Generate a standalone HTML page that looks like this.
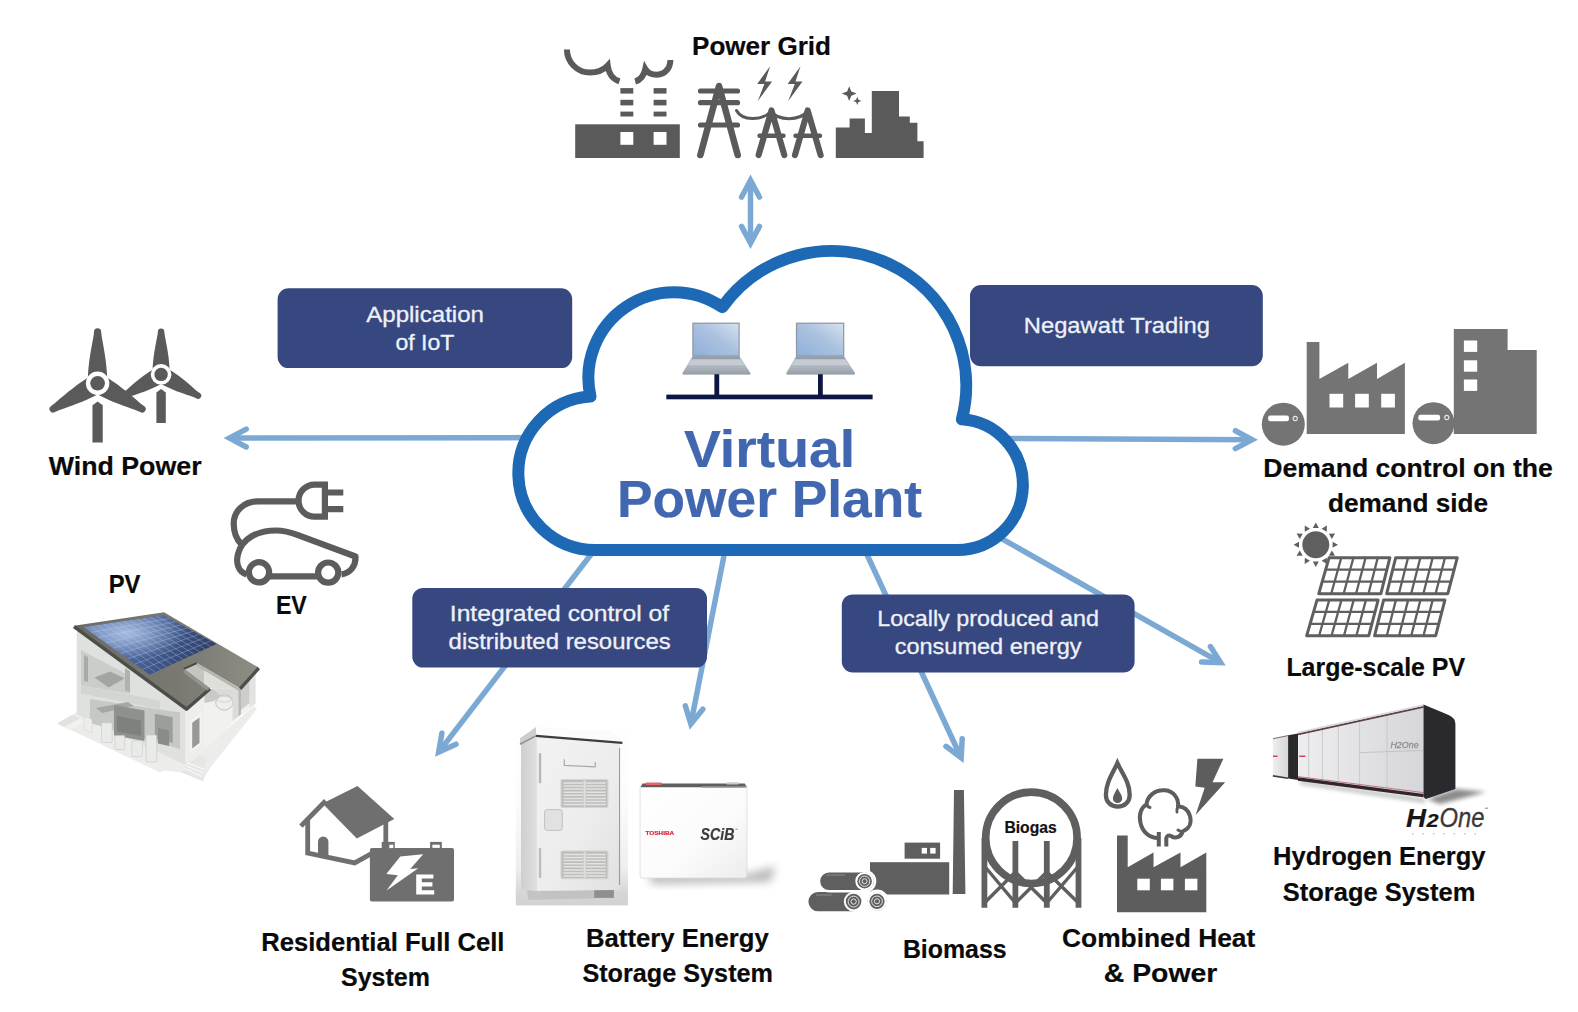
<!DOCTYPE html>
<html><head><meta charset="utf-8"><title>Virtual Power Plant</title>
<style>
html,body{margin:0;padding:0;background:#fff;}
body{width:1578px;height:1012px;overflow:hidden;font-family:"Liberation Sans",sans-serif;}
svg{display:block;}
text{font-family:"Liberation Sans",sans-serif;}
</style></head><body>
<svg width="1578" height="1012" viewBox="0 0 1578 1012">
<rect width="1578" height="1012" fill="#fff"/>
<!-- base -->
<g id="arrows">
<line x1="750.5" y1="180.26" x2="750.5" y2="243.14" stroke="#7ba9d4" stroke-width="5.5"/>
<polyline points="741.58,226.37 750.5,243.14 759.42,226.37" fill="none" stroke="#7ba9d4" stroke-width="5.5" stroke-linejoin="miter" stroke-miterlimit="10" stroke-linecap="round"/>
<polyline points="759.42,197.03 750.5,180.26 741.58,197.03" fill="none" stroke="#7ba9d4" stroke-width="5.5" stroke-linejoin="miter" stroke-miterlimit="10" stroke-linecap="round"/>
<line x1="530" y1="437.6" x2="229.46" y2="438.09" stroke="#7ba9d4" stroke-width="5.5"/>
<polyline points="246.22,429.14 229.46,438.09 246.25,446.98" fill="none" stroke="#7ba9d4" stroke-width="5.5" stroke-linejoin="miter" stroke-miterlimit="10" stroke-linecap="round"/>
<line x1="1005" y1="438.4" x2="1252.14" y2="439.77" stroke="#7ba9d4" stroke-width="5.5"/>
<polyline points="1235.32,448.59 1252.14,439.77 1235.42,430.75" fill="none" stroke="#7ba9d4" stroke-width="5.5" stroke-linejoin="miter" stroke-miterlimit="10" stroke-linecap="round"/>
<line x1="596" y1="548" x2="438.68" y2="752.06" stroke="#7ba9d4" stroke-width="5.5"/>
<polyline points="441.86,733.33 438.68,752.06 455.98,744.22" fill="none" stroke="#7ba9d4" stroke-width="5.5" stroke-linejoin="miter" stroke-miterlimit="10" stroke-linecap="round"/>
<line x1="725.5" y1="548" x2="690.83" y2="723.95" stroke="#7ba9d4" stroke-width="5.5"/>
<polyline points="685.32,705.77 690.83,723.95 702.83,709.22" fill="none" stroke="#7ba9d4" stroke-width="5.5" stroke-linejoin="miter" stroke-miterlimit="10" stroke-linecap="round"/>
<line x1="863.5" y1="547" x2="961.14" y2="757.78" stroke="#7ba9d4" stroke-width="5.5"/>
<polyline points="945.99,746.31 961.14,757.78 962.18,738.81" fill="none" stroke="#7ba9d4" stroke-width="5.5" stroke-linejoin="miter" stroke-miterlimit="10" stroke-linecap="round"/>
<line x1="990" y1="532" x2="1220.6" y2="662.61" stroke="#7ba9d4" stroke-width="5.5"/>
<polyline points="1201.61,662.11 1220.6,662.61 1210.4,646.58" fill="none" stroke="#7ba9d4" stroke-width="5.5" stroke-linejoin="miter" stroke-miterlimit="10" stroke-linecap="round"/>
</g>
<path id="cloud" d="M595.20,550.00 A76.80,76.80 0 0 1 590.50,396.54 A85.50,85.50 0 0 1 722.22,307.16 A134.60,134.60 0 0 1 961.90,419.35 A65.40,65.40 0 0 1 957.40,550.00 Z" fill="#fff" stroke="#1e69b5" stroke-width="12" stroke-linejoin="round"/>
<g id="boxes" fill="#37477f">
<rect x="277.6" y="288.3" width="294.6" height="79.8" rx="11" ry="11"/>
<rect x="970" y="285.1" width="292.8" height="81.1" rx="11" ry="11"/>
<rect x="412.3" y="587.9" width="294.7" height="79.7" rx="11" ry="11"/>
<rect x="841.8" y="594.4" width="292.8" height="78.1" rx="11" ry="11"/>
</g>
<g id="boxtext">
<text x="366.2" y="322.1" font-size="22" font-weight="normal" fill="#eef1f8" textLength="117.8" lengthAdjust="spacingAndGlyphs" stroke="#eef1f8" stroke-width="0.3">Application</text>
<text x="395.4" y="349.8" font-size="22" font-weight="normal" fill="#eef1f8" textLength="59" lengthAdjust="spacingAndGlyphs" stroke="#eef1f8" stroke-width="0.3">of IoT</text>
<text x="1023.8" y="333.2" font-size="22" font-weight="normal" fill="#eef1f8" textLength="186.1" lengthAdjust="spacingAndGlyphs" stroke="#eef1f8" stroke-width="0.3">Negawatt Trading</text>
<text x="449.8" y="620.6" font-size="22" font-weight="normal" fill="#eef1f8" textLength="219.3" lengthAdjust="spacingAndGlyphs" stroke="#eef1f8" stroke-width="0.3">Integrated control of</text>
<text x="448.6" y="648.6" font-size="22" font-weight="normal" fill="#eef1f8" textLength="222.1" lengthAdjust="spacingAndGlyphs" stroke="#eef1f8" stroke-width="0.3">distributed resources</text>
<text x="877.2" y="626.4" font-size="22" font-weight="normal" fill="#eef1f8" textLength="221.7" lengthAdjust="spacingAndGlyphs" stroke="#eef1f8" stroke-width="0.3">Locally produced and</text>
<text x="894.7" y="654.3" font-size="22" font-weight="normal" fill="#eef1f8" textLength="186.9" lengthAdjust="spacingAndGlyphs" stroke="#eef1f8" stroke-width="0.3">consumed energy</text>
</g>
<g id="title">
<text x="684" y="466.7" font-size="51" font-weight="bold" fill="#4067b0" textLength="171" lengthAdjust="spacingAndGlyphs" stroke="#4067b0" stroke-width="0.2">Virtual</text>
<text x="617" y="517.3" font-size="51" font-weight="bold" fill="#4067b0" textLength="305" lengthAdjust="spacingAndGlyphs" stroke="#4067b0" stroke-width="0.2">Power Plant</text>
</g>
<g id="labels">
<text x="692" y="54.5" font-size="26" font-weight="bold" fill="#0a0a0a" textLength="139" lengthAdjust="spacingAndGlyphs" stroke="#0a0a0a" stroke-width="0.2">Power Grid</text>
<text x="48.7" y="475.4" font-size="26" font-weight="bold" fill="#0a0a0a" textLength="152.9" lengthAdjust="spacingAndGlyphs" stroke="#0a0a0a" stroke-width="0.2">Wind Power</text>
<text x="108.7" y="593.3" font-size="26" font-weight="bold" fill="#0a0a0a" textLength="31.7" lengthAdjust="spacingAndGlyphs" stroke="#0a0a0a" stroke-width="0.2">PV</text>
<text x="275.9" y="614" font-size="26" font-weight="bold" fill="#0a0a0a" textLength="30.9" lengthAdjust="spacingAndGlyphs" stroke="#0a0a0a" stroke-width="0.2">EV</text>
<text x="261.3" y="951.2" font-size="26" font-weight="bold" fill="#0a0a0a" textLength="243.1" lengthAdjust="spacingAndGlyphs" stroke="#0a0a0a" stroke-width="0.2">Residential Full Cell</text>
<text x="341.1" y="985.7" font-size="26" font-weight="bold" fill="#0a0a0a" textLength="88.8" lengthAdjust="spacingAndGlyphs" stroke="#0a0a0a" stroke-width="0.2">System</text>
<text x="586" y="946.6" font-size="26" font-weight="bold" fill="#0a0a0a" textLength="182.7" lengthAdjust="spacingAndGlyphs" stroke="#0a0a0a" stroke-width="0.2">Battery Energy</text>
<text x="582.4" y="982.1" font-size="26" font-weight="bold" fill="#0a0a0a" textLength="190.6" lengthAdjust="spacingAndGlyphs" stroke="#0a0a0a" stroke-width="0.2">Storage System</text>
<text x="902.9" y="958.3" font-size="26" font-weight="bold" fill="#0a0a0a" textLength="103.7" lengthAdjust="spacingAndGlyphs" stroke="#0a0a0a" stroke-width="0.2">Biomass</text>
<text x="1062" y="946.6" font-size="26" font-weight="bold" fill="#0a0a0a" textLength="193.3" lengthAdjust="spacingAndGlyphs" stroke="#0a0a0a" stroke-width="0.2">Combined Heat</text>
<text x="1103.8" y="982.4" font-size="26" font-weight="bold" fill="#0a0a0a" textLength="113.5" lengthAdjust="spacingAndGlyphs" stroke="#0a0a0a" stroke-width="0.2">&amp; Power</text>
<text x="1263.2" y="476.7" font-size="26" font-weight="bold" fill="#0a0a0a" textLength="289.7" lengthAdjust="spacingAndGlyphs" stroke="#0a0a0a" stroke-width="0.2">Demand control on the</text>
<text x="1328" y="512.2" font-size="26" font-weight="bold" fill="#0a0a0a" textLength="160.1" lengthAdjust="spacingAndGlyphs" stroke="#0a0a0a" stroke-width="0.2">demand side</text>
<text x="1286.4" y="675.8" font-size="26" font-weight="bold" fill="#0a0a0a" textLength="178.7" lengthAdjust="spacingAndGlyphs" stroke="#0a0a0a" stroke-width="0.2">Large-scale PV</text>
<text x="1273.1" y="864.5" font-size="26" font-weight="bold" fill="#0a0a0a" textLength="212.4" lengthAdjust="spacingAndGlyphs" stroke="#0a0a0a" stroke-width="0.2">Hydrogen Energy</text>
<text x="1282.8" y="900.6" font-size="26" font-weight="bold" fill="#0a0a0a" textLength="192.5" lengthAdjust="spacingAndGlyphs" stroke="#0a0a0a" stroke-width="0.2">Storage System</text>
</g>
<!-- topicons -->
<g id="powerplant" fill="#5a5a5a">
<rect x="575.2" y="124.3" width="104.6" height="33.7"/>
<rect x="620.4" y="132" width="12.9" height="12.8" fill="#fff"/>
<rect x="620.4" y="88.1" width="12.9" height="5.5"/>
<rect x="620.4" y="99.8" width="12.9" height="5.6"/>
<rect x="620.4" y="111.6" width="12.9" height="4.9"/>
<rect x="653.6" y="132" width="12.9" height="12.8" fill="#fff"/>
<rect x="653.6" y="88.1" width="12.9" height="5.5"/>
<rect x="653.6" y="99.8" width="12.9" height="5.6"/>
<rect x="653.6" y="111.6" width="12.9" height="4.9"/>
<path d="M566.9,49.5 C567,62 577,72.6 590,72.6 C598,72.6 604,69.5 607.7,65.5 C608.5,72 612,79 619.5,81.4" fill="none" stroke="#5a5a5a" stroke-width="6"/>
<path d="M670.4,60 C670.4,68 665,74.7 657,74.7 C651,74.7 647,72 645.3,69 C644,75 640.5,80 635.2,81.5" fill="none" stroke="#5a5a5a" stroke-width="6"/>
</g>
<g id="pylons" fill="none" stroke="#5a5a5a" stroke-linecap="round" stroke-linejoin="round">
<path d="M700.4,155 L719,86 L737.7,155" stroke-width="6.6"/>
<path d="M700.5,91 H737.5 M700.5,102.7 H737.5 M700.5,125 H737.5" stroke-width="5.2"/>
<path d="M758.6,155 L771.5,110.5 L784.3,155" stroke-width="6.2"/>
<path d="M759.5,135.8 H783.5 M795.5,135.8 H820" stroke-width="4.4"/>
<path d="M795,155 L807.7,110.5 L820.6,155" stroke-width="6.2"/>
<path d="M736.5,110.5 C742,121 762,121 771,111.5 C778,121 800,121 807,111.5" stroke-width="3"/>
</g>
<polygon points="770.1,66.2 757.2,83.9 764.4,83.9 757.7,101.2 772.1,81.6 765.1,81.6" fill="#5a5a5a"/>
<polygon points="800.5,66.2 787.6,83.9 794.8,83.9 788.1,101.2 802.5,81.6 795.5,81.6" fill="#5a5a5a"/>
<polygon points="849.2,86.2 851.29,91.51 856.6,93.6 851.29,95.69 849.2,101 847.11,95.69 841.8,93.6 847.11,91.51" fill="#5a5a5a"/>
<polygon points="857.3,96.7 858.49,99.71 861.5,100.9 858.49,102.09 857.3,105.1 856.11,102.09 853.1,100.9 856.11,99.71" fill="#5a5a5a"/>
<polygon id="city" fill="#5a5a5a" points="835.8,158 835.8,127.5 849.6,127.5 849.6,118.5 864.9,118.5 864.9,133 871.8,133 871.8,91.1 899,91.1 899,116.4 909.8,116.4 909.8,122.7 917.4,122.7 917.4,141.3 923.6,141.3 923.6,158"/>
<!-- lefticons -->
<g id="wind">
<g fill="#5a5a5a">
<polygon points="156.4,422.9 156.4,392.39 161.1,389.1 165.8,392.39 165.8,422.9"/>
<path d="M152.5,372.4 C152.93,352.6 157.58,338 157.9,331.6 A3.2,3.2 0 0 1 164.3,331.6 C164.62,338 169.27,352.6 169.7,372.4 Z"/>
<path d="M167.13,367.95 C184.06,378.22 194.38,389.55 199.77,393.03 A3.2,3.2 0 0 1 196.57,398.57 C190.86,395.65 175.89,392.38 158.53,382.85 Z"/>
<path d="M163.67,382.85 C146.31,392.38 131.34,395.65 125.63,398.57 A3.2,3.2 0 0 1 122.43,393.03 C127.82,389.55 138.14,378.22 155.07,367.95 Z"/>
<circle cx="161.1" cy="374.4" r="10.3" fill="#fff"/>
<circle cx="161.1" cy="374.4" r="6.7"/>
</g>
<g fill="#5a5a5a">
<polygon points="92.45,442.5 92.45,405.21 97.6,401.6 102.75,405.21 102.75,442.5"/>
<path d="M87.8,381.3 C88.29,357.45 93.64,339.1 94,331.9 A3.6,3.6 0 0 1 101.2,331.9 C101.56,339.1 106.91,357.45 107.4,381.3 Z"/>
<path d="M104.23,375.81 C124.64,388.16 137.86,401.97 143.91,405.88 A3.6,3.6 0 0 1 140.31,412.12 C133.9,408.83 115.33,404.29 94.43,392.79 Z"/>
<path d="M100.77,392.79 C79.87,404.29 61.3,408.83 54.89,412.12 A3.6,3.6 0 0 1 51.29,405.88 C57.34,401.97 70.56,388.16 90.97,375.81 Z"/>
<circle cx="97.6" cy="383.3" r="11.7" fill="#fff"/>
<circle cx="97.6" cy="383.3" r="7.3"/>
</g>
</g>
<g id="ev" fill="none" stroke="#5c5c5c" stroke-width="6.2" stroke-linejoin="round">
<path d="M299.6,501.4 H258 C244,501.4 233.7,511 233.7,523.6 C233.7,533 236.5,539.5 241.5,544.5"/>
<path d="M246.5,574.5 C238,571.5 235.8,563 238,554 C242,538 258,530.5 276,530.5 C284,530.5 291,532.5 298,535.2 L355.5,556.5 C356,566 350,573.5 341.5,574.3"/>
<path d="M269.5,576.4 H317.5"/>
<circle cx="259" cy="572.3" r="10.1"/>
<circle cx="328.2" cy="572.6" r="10.1"/>
<path d="M324.9,484.6 H314.6 A16,16 0 0 0 314.6,516.7 H324.9 Z" stroke-linejoin="miter"/>
<path d="M326,492.5 H343.3 M326,509.1 H343.3"/>
</g>
<!-- bottomicons -->
<g id="fuelcell">
<polygon points="357.5,785.9 394.3,819.1 356.8,838.6 322.5,803.4" fill="#6f6f6f"/>
<path d="M324,802.5 L302.6,824.4 M307.7,821.5 V853 L354.7,862.9 L371,853.8 M385.8,822 V849" fill="none" stroke="#6f6f6f" stroke-width="4.8" stroke-linejoin="miter" stroke-linecap="square"/>
<path d="M318,854.6 V841.6 A5.2,5.2 0 0 1 328.4,841.6 V856.8 Z" fill="#6f6f6f"/>
<rect x="369.9" y="848.1" width="84.1" height="53.3" rx="2" fill="#6f6f6f"/>
<rect x="381.7" y="841.9" width="13.1" height="7" fill="#6f6f6f"/>
<rect x="430.1" y="841.9" width="11.7" height="7" fill="#6f6f6f"/>
<rect x="389.3" y="844.7" width="4" height="3.4" fill="#fff"/>
<rect x="432.4" y="844.7" width="7.4" height="3.2" fill="#fff"/>
<polygon points="400.3,856.4 423.2,854.2 410.2,868.9 418.3,868.2 386.5,890.6 397.8,875.3 386.3,873.9" fill="#fff"/>
<path d="M416.2,874.4 H433.4 V878.6 H421.8 V882.3 H432.4 V886.4 H421.8 V890.3 H434.2 V894.5 H416.2 Z" fill="#fff"/>
</g>
<g id="biomass" fill="#5f5f5f">
<rect x="870" y="862.2" width="79.2" height="32.3"/>
<rect x="904.6" y="842.6" width="35.5" height="16.1"/>
<rect x="921.7" y="847.9" width="5.3" height="5.7" fill="#fff"/><rect x="930.2" y="847.9" width="5.4" height="5.7" fill="#fff"/>
<polygon points="954,789.9 963.9,789.9 965.4,894.1 952.7,894.1"/>
<rect x="807.2" y="890.7" width="56.3" height="21.8" rx="10.9" stroke="#fff" stroke-width="2.4"/>
<circle cx="877" cy="901.3" r="10.6" stroke="#fff" stroke-width="2.4"/>
<rect x="819" y="871.3" width="56.1" height="19.9" rx="9.95" stroke="#fff" stroke-width="2.4"/>
<circle cx="864.6" cy="881.2" r="8.3" stroke="#fff" stroke-width="2"/>
<circle cx="864.6" cy="881.2" r="5.15" fill="none" stroke="#e4e4e4" stroke-width="1"/>
<circle cx="864.6" cy="881.2" r="2.49" fill="none" stroke="#e4e4e4" stroke-width="1"/>
<circle cx="853.6" cy="901.6" r="8.8" stroke="#fff" stroke-width="2"/>
<circle cx="853.6" cy="901.6" r="5.46" fill="none" stroke="#e4e4e4" stroke-width="1"/>
<circle cx="853.6" cy="901.6" r="2.64" fill="none" stroke="#e4e4e4" stroke-width="1"/>
<circle cx="877" cy="901.3" r="8.6" stroke="#fff" stroke-width="2"/>
<circle cx="877" cy="901.3" r="5.33" fill="none" stroke="#e4e4e4" stroke-width="1"/>
<circle cx="877" cy="901.3" r="2.58" fill="none" stroke="#e4e4e4" stroke-width="1"/>
<path d="M826,875 H845 M816,895 H832" stroke="#8a8a8a" stroke-width="1" fill="none"/>
</g>
<g id="biogas" fill="none" stroke="#5f5f5f">
<circle cx="1031.4" cy="837.8" r="45.7" stroke-width="7.6"/>
<path d="M984.4,838 V907.8 M1078.5,838 V907.8 M1015.4,841 V907.8 M1046.8,841 V907.8" stroke-width="5.8"/>
<path d="M984.4,866 L1015.4,903 M1015.4,872 L984.4,903 M1015.4,872 L1046.8,903 M1046.8,872 L1015.4,903 M1078.5,866 L1046.8,903 M1046.8,872 L1078.5,903" stroke-width="3.4"/>
</g>
<text x="1004.4" y="833.3" font-size="16.6" font-weight="bold" fill="#111" textLength="52.3" lengthAdjust="spacingAndGlyphs" stroke="#111" stroke-width="0.2">Biogas</text>
<g id="chp" fill="#5d5d5d">
<polygon points="1117,835.5 1127.7,835.5 1127.7,867.2 1153.5,852.4 1153.5,867.2 1180.5,852.4 1180.5,867.2 1206.3,852.4 1206.3,912.2 1117,912.2"/>
<rect x="1137.3" y="878.7" width="12.5" height="11.6" fill="#fff"/>
<rect x="1160.9" y="878.7" width="12.5" height="11.6" fill="#fff"/>
<rect x="1184.9" y="878.7" width="12.5" height="11.6" fill="#fff"/>
<path d="M1117.4,763 C1113,773 1105.9,782 1105.9,795 C1105.9,802 1111,806.6 1117.8,806.6 C1124.6,806.6 1129.7,802 1129.7,795 C1129.7,782 1121.8,773 1117.4,763 Z" fill="none" stroke="#5d5d5d" stroke-width="4.3" stroke-linejoin="miter"/>
<path d="M1117.4,788 C1115.6,792 1112.9,795 1112.9,798.6 A4.65,4.5 0 0 0 1122.2,798.6 C1122.2,795 1119.3,792 1117.4,788 Z"/>
<polygon points="1197.4,758.7 1223.4,758.7 1212.5,782.3 1225.2,782.3 1195.6,814.9 1204.7,787.7 1195.3,786.6"/>
<path d="M1158.8,846.4 V832 M1166.3,846.4 V838 C1167,835.5 1169,834.8 1171,836 C1176,839.5 1181.5,836.5 1182.5,831.5 C1189,829 1192,823 1190,816 C1188.5,810 1183.5,806 1178,806.5 C1179,799 1174,791 1165,790.3 C1155,789.5 1147.5,796 1146.5,804.5 C1141,807.5 1138.5,815 1140.5,823 C1142.5,832 1149.5,838.5 1158.8,838" fill="none" stroke="#5d5d5d" stroke-width="4" stroke-linejoin="round"/>
<path d="M1146.5,804.5 C1147.5,806.5 1148.5,807 1150,807.5 M1178,806.5 C1177,808.5 1176.5,810.5 1177,812 M1182.5,831.5 C1181,831.5 1179.5,831 1178,830" fill="none" stroke="#5d5d5d" stroke-width="3" stroke-linecap="round"/>
</g>
<!-- righticons -->
<g id="demand" fill="#747474">
<polygon points="1306.7,341.9 1319.4,341.9 1319.4,378.9 1348.3,362.8 1348.3,378.9 1377,362.8 1377,378.9 1404.9,362.8 1404.9,434.1 1306.7,434.1"/>
<rect x="1329.5" y="393.8" width="13.7" height="13.7" fill="#fff"/>
<rect x="1355.1" y="393.8" width="13.7" height="13.7" fill="#fff"/>
<rect x="1381.2" y="393.8" width="13.7" height="13.7" fill="#fff"/>
<polygon points="1453.8,329.1 1507.6,329.1 1507.6,350 1536.7,350 1536.7,434.1 1453.8,434.1"/>
<rect x="1463.9" y="340.5" width="13.3" height="11.4" fill="#fff"/>
<rect x="1463.9" y="360.3" width="13.3" height="11.4" fill="#fff"/>
<rect x="1463.9" y="379.5" width="13.3" height="11.4" fill="#fff"/>
<circle cx="1283.3" cy="424.2" r="21.5"/>
<rect x="1268.1" y="415.6" width="20.9" height="5.7" rx="2.2" fill="#fff"/>
<circle cx="1295.2" cy="418.5" r="2.1" fill="none" stroke="#e8e8e8" stroke-width="1.1"/>
<circle cx="1433.5" cy="423.2" r="21"/>
<rect x="1418.3" y="414.7" width="21.8" height="5.7" rx="2.2" fill="#fff"/>
<circle cx="1446.8" cy="417.5" r="2.1" fill="none" stroke="#e8e8e8" stroke-width="1.1"/>
</g>
<g id="lspv">
<polygon points="1332.6,547.7 1338,544.7 1332.6,541.7" fill="#5f5f5f"/>
<polygon points="1328.85,555.7 1335.03,555.8 1331.85,550.5" fill="#5f5f5f"/>
<polygon points="1321.6,560.75 1326.9,563.93 1326.8,557.75" fill="#5f5f5f"/>
<polygon points="1312.8,561.5 1315.8,566.9 1318.8,561.5" fill="#5f5f5f"/>
<polygon points="1304.8,557.75 1304.7,563.93 1310,560.75" fill="#5f5f5f"/>
<polygon points="1299.75,550.5 1296.57,555.8 1302.75,555.7" fill="#5f5f5f"/>
<polygon points="1299,541.7 1293.6,544.7 1299,547.7" fill="#5f5f5f"/>
<polygon points="1302.75,533.7 1296.57,533.6 1299.75,538.9" fill="#5f5f5f"/>
<polygon points="1310,528.65 1304.7,525.47 1304.8,531.65" fill="#5f5f5f"/>
<polygon points="1318.8,527.9 1315.8,522.5 1312.8,527.9" fill="#5f5f5f"/>
<polygon points="1326.8,531.65 1326.9,525.47 1321.6,528.65" fill="#5f5f5f"/>
<polygon points="1331.85,538.9 1335.03,533.6 1328.85,533.7" fill="#5f5f5f"/>
<circle cx="1315.8" cy="544.7" r="13.5" fill="#5f5f5f"/>
<polygon points="1329.1,557.7 1389.9,557.7 1380.9,593.7 1318.8,593.7" fill="#fff" stroke="#5f5f5f" stroke-width="3" stroke-linejoin="round"/>
<path d="M1341.26,557.7 L1331.22,593.7 M1353.42,557.7 L1343.64,593.7 M1365.58,557.7 L1356.06,593.7 M1377.74,557.7 L1368.48,593.7 M1325.67,569.7 L1386.9,569.7 M1322.23,581.7 L1383.9,581.7 " fill="none" stroke="#5f5f5f" stroke-width="2.3"/>
<polygon points="1395.7,557.7 1457.3,557.7 1447.8,593.7 1386.7,593.7" fill="#fff" stroke="#5f5f5f" stroke-width="3" stroke-linejoin="round"/>
<path d="M1408.02,557.7 L1398.92,593.7 M1420.34,557.7 L1411.14,593.7 M1432.66,557.7 L1423.36,593.7 M1444.98,557.7 L1435.58,593.7 M1392.7,569.7 L1454.13,569.7 M1389.7,581.7 L1450.97,581.7 " fill="none" stroke="#5f5f5f" stroke-width="2.3"/>
<polygon points="1317,600.1 1378.1,600.1 1368.8,635.7 1306.7,635.7" fill="#fff" stroke="#5f5f5f" stroke-width="3" stroke-linejoin="round"/>
<path d="M1329.22,600.1 L1319.12,635.7 M1341.44,600.1 L1331.54,635.7 M1353.66,600.1 L1343.96,635.7 M1365.88,600.1 L1356.38,635.7 M1313.57,611.97 L1375,611.97 M1310.13,623.83 L1371.9,623.83 " fill="none" stroke="#5f5f5f" stroke-width="2.3"/>
<polygon points="1383.6,600.1 1444.9,600.1 1435.7,635.7 1374.6,635.7" fill="#fff" stroke="#5f5f5f" stroke-width="3" stroke-linejoin="round"/>
<path d="M1395.86,600.1 L1386.82,635.7 M1408.12,600.1 L1399.04,635.7 M1420.38,600.1 L1411.26,635.7 M1432.64,600.1 L1423.48,635.7 M1380.6,611.97 L1441.83,611.97 M1377.6,623.83 L1438.77,623.83 " fill="none" stroke="#5f5f5f" stroke-width="2.3"/>
</g>
<!-- photos -->
<defs>
<filter id="soft" x="-5%" y="-5%" width="110%" height="110%"><feGaussianBlur stdDeviation="0.55"/></filter>
<filter id="blur2" x="-20%" y="-20%" width="140%" height="140%"><feGaussianBlur stdDeviation="2.2"/></filter>
<filter id="blur4" x="-30%" y="-30%" width="160%" height="160%"><feGaussianBlur stdDeviation="4"/></filter>
<linearGradient id="scr" x1="0" y1="1" x2="1" y2="0"><stop offset="0" stop-color="#8fb0da"/><stop offset="0.55" stop-color="#abc2df"/><stop offset="1" stop-color="#d6e1ef"/></linearGradient>
<linearGradient id="kb" x1="0" y1="0" x2="0" y2="1"><stop offset="0" stop-color="#8f98a3"/><stop offset="0.5" stop-color="#b4bbc3"/><stop offset="1" stop-color="#9aa2ab"/></linearGradient>
<linearGradient id="roofg" x1="0" y1="0" x2="1" y2="0"><stop offset="0" stop-color="#6a6a64"/><stop offset="0.6" stop-color="#7b7a72"/><stop offset="1" stop-color="#8f8e85"/></linearGradient>
<linearGradient id="solg" x1="0" y1="0" x2="1" y2="0.25"><stop offset="0" stop-color="#5f7bb0"/><stop offset="0.5" stop-color="#4a669c"/><stop offset="1" stop-color="#2f426d"/></linearGradient>
<radialGradient id="solh" cx="0.32" cy="0.3" r="0.45"><stop offset="0" stop-color="#b4c9ea" stop-opacity="0.85"/><stop offset="1" stop-color="#b4c9ea" stop-opacity="0"/></radialGradient>
</defs>
<g id="laptops" filter="url(#soft)">
<rect x="692.3" y="322.6" width="47.4" height="34.2" fill="#8d96a3"/>
<rect x="693.5" y="323.8" width="45" height="31.6" fill="url(#scr)"/>
<polygon points="692.3,356.7 739.7,356.7 750.6,373.2 682.3,373.2" fill="url(#kb)" />
<polygon points="691.1,359.2 740.9,359.2 744.1,365 687.9,365" fill="#c9d0d8" opacity="0.85"/>
<polygon points="682.3,373.2 750.6,373.2 750,374.6 682.9,374.6" fill="#7f8791" />
<rect x="714.4" y="374.2" width="4.8" height="21" fill="#0c1842"/>
<rect x="795.9" y="322.6" width="48.4" height="34.2" fill="#8d96a3"/>
<rect x="797.1" y="323.8" width="46" height="31.6" fill="url(#scr)"/>
<polygon points="795.9,356.7 844.3,356.7 855.2,373.2 786.2,373.2" fill="url(#kb)" />
<polygon points="794.7,359.2 845.5,359.2 848.7,365 791.5,365" fill="#c9d0d8" opacity="0.85"/>
<polygon points="786.2,373.2 855.2,373.2 854.6,374.6 786.8,374.6" fill="#7f8791" />
<rect x="818" y="374.2" width="4.8" height="21" fill="#0c1842"/>
<rect x="666.3" y="394.6" width="206.3" height="4.7" fill="#0c1842"/>
</g>
<g id="house" filter="url(#soft)">
<polygon points="57,723.5 76.7,712 185.7,762 204.4,748 254,706 257,709 210,768 203,780.5 181,772.5 164,770.5 160,772.5" fill="#ecedeb" />
<polygon points="57,723.5 72,715 80,718.5 64,727" fill="#e2e3e1" />
<polygon points="64,727 80,718.5 86,721 70,730" fill="#f1f2f0" />
<polygon points="76.7,629.5 185.7,709.5 185.7,765 76.7,714.5" fill="#dfe1df" />
<polygon points="81,650 130,676 130,694 81,685.5" fill="#cbcdcb" />
<polygon points="84,655 88,657 88,682 84,681" fill="#a9aba9" />
<polygon points="94.4,677.4 110,671.5 124.7,678.2 108.7,687.4" fill="#a3a5a3" />
<polygon points="125,668 130,671 130,692 125,690.5" fill="#b0b2b0" />
<polygon points="81,685.5 81,693.5 160,709 160,700.5" fill="#d3d5d3" />
<polygon points="90,699 180,712.5 180,749 90,723" fill="#c6c8c6" />
<polygon points="96,708 128,702 134,706 102,713" fill="#a6a8a6" />
<polygon points="114,705 144.5,710.5 144.5,741 114,735.5" fill="#8f918f" />
<polygon points="117,716 141,720.5 141,736 117,731.5" fill="#7f817f" />
<polygon points="154.9,713.8 172.7,717.3 172.7,743 154.9,739" fill="#9c9e9c" />
<polygon points="158,728 169,730.5 169,746 158,743.5" fill="#8a8c8a" />
<rect x="101.6" y="722.7" width="10.6" height="19.8" rx="1.2" fill="#e9ebe9" stroke="#c5c7c5" stroke-width="0.6"/>
<rect x="114.9" y="735.5" width="9.8" height="14" rx="1.2" fill="#e9ebe9" stroke="#c5c7c5" stroke-width="0.6"/>
<rect x="131.8" y="740.8" width="10.6" height="15.8" rx="1.2" fill="#e9ebe9" stroke="#c5c7c5" stroke-width="0.6"/>
<rect x="146" y="735.1" width="10.7" height="26.9" rx="1.2" fill="#e9ebe9" stroke="#c5c7c5" stroke-width="0.6"/>
<polygon points="84,716 92,719.5 92,733 84,729.5" fill="#eceeec" stroke="#cfd1cf" stroke-width="0.5"/>
<polygon points="185.7,709.5 204.4,694.8 204.4,750.1 185.7,766" fill="#eeefed" />
<polygon points="190.3,720.5 201.6,712.2 201.6,744 190.3,752.5" fill="#f4f4f2" />
<polygon points="192.2,722.8 199.5,717.5 199.5,743 192.2,748.6" fill="#999997" />
<polygon points="204.4,694.8 212,688.5 241,688.5 256,672 256,704 238,718 204.4,750.1" fill="#f1f1ef" />
<polygon points="204.4,694.8 212,688.5 222,694 214,701 204.4,703" fill="#c9c9c7" />
<polygon points="212,688.5 241,688.5 241,700 226,700" fill="#dadad8" />
<ellipse cx="224.3" cy="702.5" rx="8.6" ry="7.6" fill="#eeeeec" stroke="#bcbcba" stroke-width="0.9"/>
<ellipse cx="224.3" cy="699.2" rx="7" ry="2.8" fill="none" stroke="#c4c4c2" stroke-width="0.7"/>
<polygon points="232.6,688.2 238.4,688.2 238.4,716.5 232.6,720.5" fill="#dcdcda" />
<polygon points="238.4,688.2 241,688.2 241,714 238.4,716.5" fill="#b9b9b7" />
<polygon points="249.5,678.8 255.3,672.5 255.3,703.4 249.5,707.5" fill="#e3e3e1" />
<polygon points="241,688 249.5,679 249.5,703 241,710" fill="#cdcdcb" />
<polygon points="185.7,765.5 200,755 206,758 203,781.5 182,772.5" fill="#e6e7e5" />
<path d="M184.5,768.5 L202,776.5 M186,765.8 L203.5,773 M188,763 L204.5,769.5" stroke="#fafafa" stroke-width="1.1" fill="none"/>
<polygon points="196.9,662.9 241,688.4 210,688.4 183.8,668.5" fill="#dededb" />
<polygon points="183.8,668.5 196.9,662.9 204,667 204,684" fill="#c4c4c0" />
<polygon points="74,625.8 164,612.3 258.8,667.6 240.1,688.2 196.9,662.9 183.8,668.5 210,688.2 186.5,708.6" fill="url(#roofg)" />
<path d="M74,626.6 L186.5,709.2 L210,688.8 M240.1,688.8 L258.8,668.2" stroke="#4d4d4a" stroke-width="3.4" fill="none" stroke-linejoin="round"/>
<path d="M183.8,668.8 L196.9,663.2" stroke="#454542" stroke-width="1.8" fill="none"/>
<polygon points="196.9,663.2 240.1,688.5 240.1,691.5 196.9,666.2" fill="#b5b5b0" />
<polygon points="183.8,669 210,688.6 207.5,690.8 183.8,673" fill="#9c9c97" opacity="0.7"/>
<polygon points="83.8,627 163.5,615.3 216.6,644.1 149.6,674.7" fill="url(#solg)" />
<polygon points="83.8,627 163.5,615.3 216.6,644.1 149.6,674.7" fill="url(#solh)" />
<path d="M90.44,626.02 L155.18,672.15 M97.08,625.05 L160.77,669.6 M103.72,624.08 L166.35,667.05 M110.37,623.1 L171.93,664.5 M117.01,622.12 L177.52,661.95 M123.65,621.15 L183.1,659.4 M130.29,620.17 L188.68,656.85 M136.93,619.2 L194.27,654.3 M143.57,618.22 L199.85,651.75 M150.22,617.25 L205.43,649.2 M156.86,616.27 L211.02,646.65 M91.11,632.3 L169.4,618.5 M98.42,637.6 L175.3,621.7 M105.73,642.9 L181.2,624.9 M113.04,648.2 L187.1,628.1 M120.36,653.5 L193,631.3 M127.67,658.8 L198.9,634.5 M134.98,664.1 L204.8,637.7 M142.29,669.4 L210.7,640.9 " stroke="#c8d6ee" stroke-opacity="0.45" stroke-width="0.7" fill="none"/>
</g>
<!-- photos2 -->
<defs>
<linearGradient id="cabbg" x1="0" y1="0" x2="0" y2="1"><stop offset="0" stop-color="#ffffff"/><stop offset="0.45" stop-color="#fbfbfb"/><stop offset="0.8" stop-color="#eeeeee"/><stop offset="0.93" stop-color="#d6d6d6"/><stop offset="1" stop-color="#d2d2d2"/></linearGradient>
<linearGradient id="cabside" x1="0" y1="0" x2="1" y2="0"><stop offset="0" stop-color="#cfcfcf"/><stop offset="1" stop-color="#dfdfdf"/></linearGradient>
<linearGradient id="cabfront" x1="0" y1="0" x2="1" y2="1"><stop offset="0" stop-color="#f2f2f2"/><stop offset="0.6" stop-color="#ececec"/><stop offset="1" stop-color="#e0e0e0"/></linearGradient>
<linearGradient id="scibg" x1="0" y1="0" x2="1" y2="1"><stop offset="0" stop-color="#ffffff"/><stop offset="0.6" stop-color="#fbfbfb"/><stop offset="1" stop-color="#ececec"/></linearGradient>
<linearGradient id="h2side" x1="0" y1="0" x2="1" y2="0"><stop offset="0" stop-color="#eeeef0"/><stop offset="0.5" stop-color="#e2e2e5"/><stop offset="1" stop-color="#d6d6da"/></linearGradient>
</defs>
<g id="cabinet" filter="url(#soft)">
<rect x="515.8" y="722" width="112.2" height="183.4" fill="url(#cabbg)"/>
<polygon points="541,891 595,890 595,898.5 541,899.5" fill="#c2c2c2" />
<polygon points="526.6,890 541.6,891.4 541.6,899.8 528.5,899.8" fill="#c4c4c4" />
<polygon points="594.2,889.5 613.9,889.5 613.9,897.9 594.2,897.9" fill="#8f8f8f" />
<polygon points="521,744.3 536.9,736 536.9,890.8 521,889.5" fill="url(#cabside)" />
<polygon points="536.9,736 620,743 620,890 536.9,890.8" fill="url(#cabfront)" />
<polygon points="520,738.2 536,726.9 536,735.8 520,744.3" fill="#cdcdcd" />
<polygon points="536,726.9 612,731 622.4,741.5 536,734.8" fill="#fbfbfb" />
<path d="M536,735.8 L622.4,742.9" stroke="#3c3c3c" stroke-width="2.2" fill="none"/>
<path d="M520,744.2 L536,735.9" stroke="#8f8f8f" stroke-width="1.6" fill="none"/>
<path d="M619.6,748 V885" stroke="#8a8a8a" stroke-width="0.9" fill="none"/>
<rect x="538.8" y="753.2" width="2.4" height="30" fill="#b7b7b7"/><rect x="538.8" y="848" width="2.4" height="30" fill="#bdbdbd"/>
<path d="M564.3,759.2 V765.4 L595.2,766.9 V762" stroke="#a9a9a9" stroke-width="1.2" fill="none"/>
<rect x="561" y="779.5" width="46.9" height="28" rx="1.5" fill="#bdbdbb" stroke="#d4d4d2" stroke-width="1.2"/>
<path d="M563.5,782.9 H583 M586.2,782.9 H605.7 M563.5,786 H583 M586.2,786 H605.7 M563.5,789.1 H583 M586.2,789.1 H605.7 M563.5,792.2 H583 M586.2,792.2 H605.7 M563.5,795.3 H583 M586.2,795.3 H605.7 M563.5,798.4 H583 M586.2,798.4 H605.7 M563.5,801.5 H583 M586.2,801.5 H605.7 M563.5,804.6 H583 M586.2,804.6 H605.7 " stroke="#e4e4e2" stroke-width="1.5" fill="none"/>
<rect x="583.4" y="780.5" width="2.4" height="26" fill="#dededc"/>
<rect x="561" y="851" width="46.9" height="27.7" rx="1.5" fill="#bdbdbb" stroke="#d4d4d2" stroke-width="1.2"/>
<path d="M563.5,854.4 H583 M586.2,854.4 H605.7 M563.5,857.5 H583 M586.2,857.5 H605.7 M563.5,860.6 H583 M586.2,860.6 H605.7 M563.5,863.7 H583 M586.2,863.7 H605.7 M563.5,866.8 H583 M586.2,866.8 H605.7 M563.5,869.9 H583 M586.2,869.9 H605.7 M563.5,873 H583 M586.2,873 H605.7 M563.5,876.1 H583 M586.2,876.1 H605.7 " stroke="#e4e4e2" stroke-width="1.5" fill="none"/>
<rect x="583.4" y="852" width="2.4" height="25.7" fill="#dededc"/>
<rect x="544.6" y="809.6" width="17.7" height="20.8" rx="2.5" fill="#e1e1e1" stroke="#bcbcbc" stroke-width="0.9"/>
</g>
<g id="scib">
<polygon points="648,874 747,874 776,866 770,882 652,884" fill="#b9b9b9" filter="url(#blur4)"/>
<g filter="url(#soft)">
<rect x="640.1" y="784.7" width="106.9" height="93.4" rx="2.5" fill="url(#scibg)" stroke="#d6d6d6" stroke-width="0.7"/>
<polygon points="640.6,787.2 642.5,783.6 744.8,783.6 746.6,787.2" fill="#5e5e5e" />
<rect x="702" y="786" width="44" height="1.6" fill="#8a8a8a"/>
<rect x="645.5" y="782.4" width="16.5" height="2.6" rx="1" fill="#e8636b"/>
<rect x="726" y="782.2" width="13" height="2.2" rx="1" fill="#c9c9c9"/>
</g>
<text x="645.6" y="835.1" font-size="5.6" font-weight="bold" fill="#d8283c" textLength="28.6" lengthAdjust="spacingAndGlyphs" filter="url(#soft)" stroke="#d8283c" stroke-width="0.2">TOSHIBA</text>
<text x="700.6" y="839.6" font-size="15.6" font-weight="bold" fill="#3c3c3c" font-style="italic" textLength="34" lengthAdjust="spacingAndGlyphs" filter="url(#soft)" stroke="#3c3c3c" stroke-width="0.2">SCiB</text>
<path d="M735.4,829.2 H738" stroke="#777" stroke-width="0.7"/>
</g>
<g id="h2one">
<polygon points="1427,799 1456,789 1486,792 1440,804" fill="#8a8a8a" filter="url(#blur2)"/>
<polygon points="1300,781 1425,799 1425,802.5 1300,784" fill="#9a9a9a" filter="url(#blur2)" opacity="0.8"/>
<g filter="url(#soft)">
<polygon points="1272.9,738.7 1288.1,735.6 1288.1,778.2 1272.9,775.9" fill="url(#h2side)" />
<path d="M1272.9,738.7 L1288.1,735.6" stroke="#7a5560" stroke-width="0.9"/>
<path d="M1272.9,775.9 L1288.1,778.2" stroke="#4a3a40" stroke-width="1.6"/>
<polygon points="1288.1,735.3 1298,733.6 1298,780 1288.1,778.4" fill="#2a2a2c" />
<polygon points="1298,734.1 1423.5,706.7 1423.5,796.5 1298,779.7" fill="url(#h2side)" />
<path d="M1308.7,732.76 V780.13 M1322.4,729.77 V781.97 M1338.3,726.3 V784.09 M1359.6,721.65 V786.95 M1387,715.67 V790.61 " stroke="#c3c3c7" stroke-width="0.8" fill="none"/>
<path d="M1359.6,752.6 L1423.5,750.4" stroke="#bfbfc3" stroke-width="0.9" fill="none"/>
<path d="M1298,734.3 L1423.5,706.9" stroke="#5d3f49" stroke-width="1.9" fill="none"/>
<path d="M1298,732.6 L1423.5,705" stroke="#d9d9dc" stroke-width="1.6" fill="none"/>
<path d="M1298,779 L1423.5,795.6" stroke="#33272c" stroke-width="3.4" fill="none"/>
<path d="M1298,776.6 L1423.5,792.6" stroke="#b76b7a" stroke-width="0.9" fill="none"/>
<rect x="1273" y="755.6" width="4.5" height="1.3" fill="#c8303c"/><rect x="1299.2" y="755.6" width="6.2" height="1.3" fill="#c8303c"/>
<path d="M1423.5,704.4 L1448.6,715.1 Q1455.4,718 1455.4,724 L1455.4,788.9 L1425.8,798.9 L1423.5,797 Z" fill="#2b2b2d"/>
</g>
<text x="1390.4" y="748.4" font-size="9" font-weight="normal" fill="#8d8d92" font-style="italic" textLength="28.2" lengthAdjust="spacingAndGlyphs" filter="url(#soft)" stroke="#8d8d92" stroke-width="0.3">H2One</text>
<text x="1406" y="827.4" font-size="26.5" font-weight="bold" fill="#161616" font-style="italic" textLength="20" lengthAdjust="spacingAndGlyphs" stroke="#161616" stroke-width="0.2">H</text>
<text x="1426.5" y="827.4" font-size="19" font-weight="bold" fill="#161616" font-style="italic" textLength="12.1" lengthAdjust="spacingAndGlyphs" stroke="#161616" stroke-width="0.2">2</text>
<text x="1439.6" y="827.4" font-size="27" font-weight="normal" fill="#3a3a3a" font-style="italic" textLength="45" lengthAdjust="spacingAndGlyphs" stroke="#3a3a3a" stroke-width="0.3">One</text>
<path d="M1412,833.8 H1476" stroke="#c9c9c9" stroke-width="1.4" stroke-dasharray="1.6 8.8" fill="none"/>
<path d="M1485,808.2 H1488" stroke="#666" stroke-width="0.8"/>
</g>
</svg>
</body></html>
